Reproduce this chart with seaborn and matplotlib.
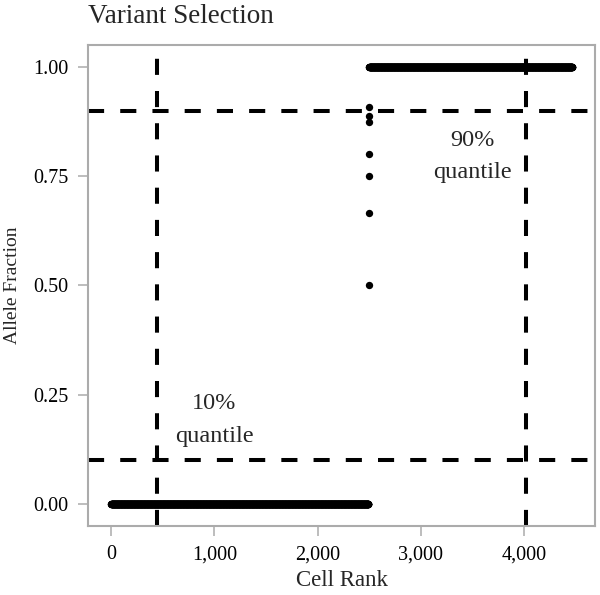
import numpy as np
import pandas as pd
import matplotlib
matplotlib.use("Agg")
import matplotlib.pyplot as plt
import matplotlib.ticker as mticker
import seaborn as sns

# allele fraction levels and how many cells sit at each level (sorted = rank order)
allele_values = [0.0, 0.5, 0.667, 0.75, 0.8, 0.875, 0.889, 0.909, 1.0]
cell_counts = [2495, 1, 1, 1, 1, 1, 1, 1, 1968]
quantile_levels = [0.1, 0.9]
quantile_text = ["10%\nquantile", "90%\nquantile"]
text_pos = [(1000, 0.192), (3500, 0.795)]
x_ticks = [0, 1000, 2000, 3000, 4000]
y_ticks = [0.0, 0.25, 0.5, 0.75, 1.0]

af = np.repeat(allele_values, cell_counts)
df = pd.DataFrame({"Cell Rank": np.arange(len(af)), "Allele Fraction": af})
rank_cuts = np.quantile(df["Cell Rank"], quantile_levels)

sns.set_style("white")
plt.rcParams["font.family"] = ["Liberation Serif", "DejaVu Serif"]
grey = "#ababab"

fig = plt.figure(figsize=(6, 5.95), dpi=100)
ax = fig.add_axes([0.147, 0.1165, 0.845, 0.8075])

sns.scatterplot(data=df, x="Cell Rank", y="Allele Fraction", color="black",
                s=28, linewidth=0, ax=ax, zorder=3)

for r in rank_cuts:
    ax.axvline(r, color="black", lw=2.9, dashes=(4, 4), zorder=2)
for q in quantile_levels:
    ax.axhline(q, color="black", lw=2.9, dashes=(4, 4), zorder=2)

for (tx, ty), t in zip(text_pos, quantile_text):
    ax.text(tx, ty, t, ha="center", va="center", fontsize=17.5, linespacing=1.7)

ax.margins(x=0.05, y=0.05)
ax.set_xticks(x_ticks)
ax.set_yticks(y_ticks)
ax.xaxis.set_major_formatter(mticker.StrMethodFormatter("{x:,.0f}"))
ax.yaxis.set_major_formatter(mticker.StrMethodFormatter("{x:.2f}"))
ax.tick_params(axis="both", length=7.5, width=1.1, color=grey, labelsize=14.5,
               labelcolor="black", pad=6.5, bottom=True, left=True)

for sp in ax.spines.values():
    sp.set_color(grey)
    sp.set_linewidth(1.5)

ax.set_xlabel("Cell Rank", fontsize=16.5, labelpad=4)
ax.set_ylabel("Allele Fraction", fontsize=14, labelpad=9)
ax.set_title("Variant Selection", loc="left", fontsize=19.5, pad=16)

fig.savefig("out.png", dpi=100, facecolor="white")
